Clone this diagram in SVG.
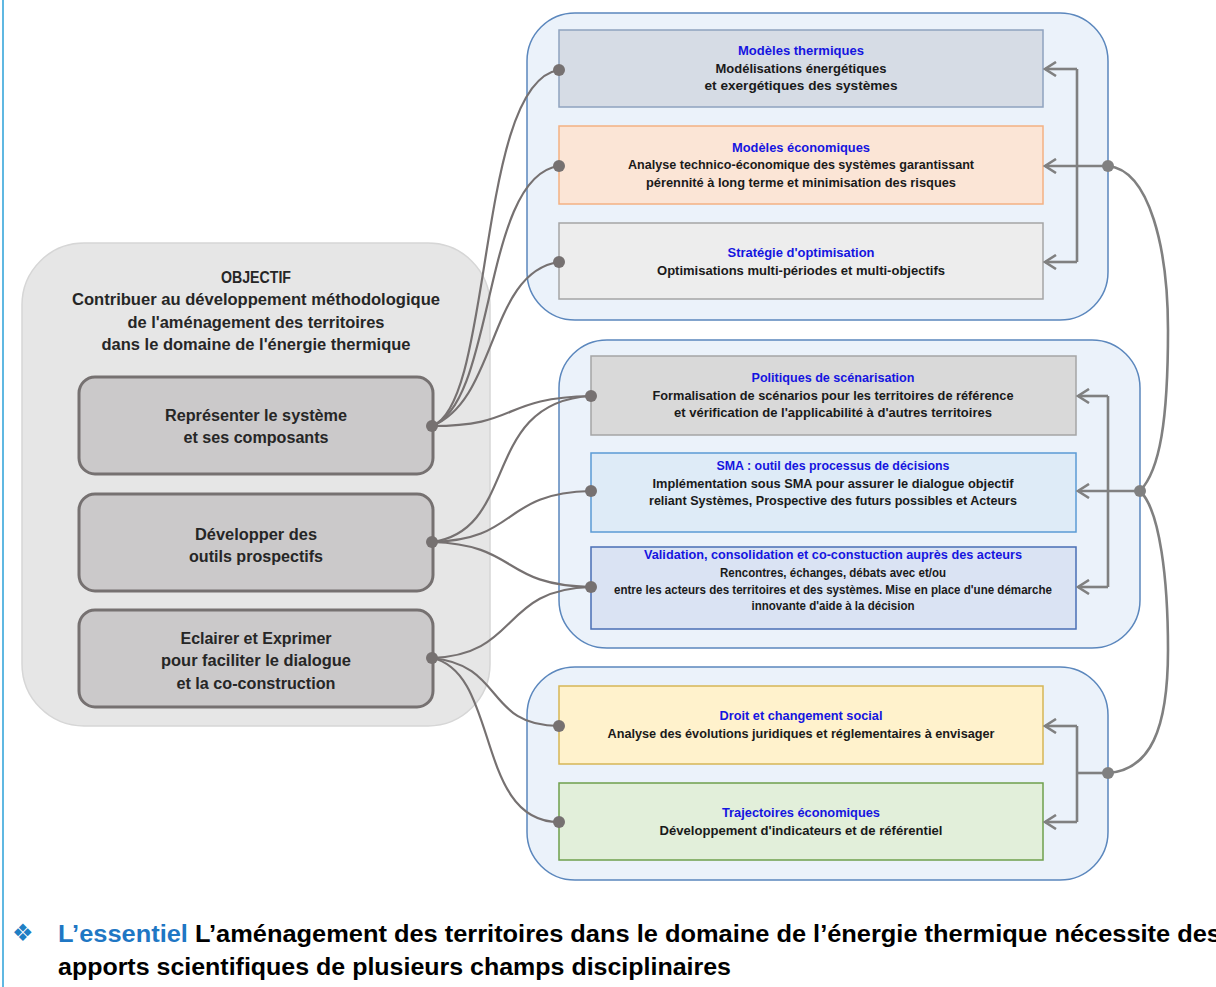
<svg xmlns="http://www.w3.org/2000/svg" width="1216" height="987" viewBox="0 0 1216 987">
<defs>
<style>
.grp{fill:#ebf2fa;stroke:#5b87bd;stroke-width:1.5}
.t{font-family:"Liberation Sans",Arial,sans-serif;font-size:12.5px;font-weight:bold;text-anchor:middle;fill:#1a1a1a}
.h{fill:#1515e0}
.lt{font-family:"Liberation Sans",Arial,sans-serif;font-size:16px;font-weight:bold;text-anchor:middle;fill:#262626}
.inner{fill:#cbc9ca;stroke:#767171;stroke-width:3}
.con{fill:none;stroke:#767171;stroke-width:2.2}
.arr{fill:none;stroke:#808080;stroke-width:2.6}
.dot{fill:#767171}
.dotr{fill:#808080}
.big{font-family:"Liberation Sans",Arial,sans-serif;font-size:23px;font-weight:bold;fill:#000}
</style>
<marker id="ah" viewBox="0 0 14 16" refX="12" refY="8" markerWidth="14" markerHeight="16" markerUnits="userSpaceOnUse" orient="auto">
<path d="M1,1 L12,8 L1,15" fill="none" stroke="#808080" stroke-width="2.6"/>
</marker>
</defs>
<rect width="1216" height="987" fill="#ffffff"/>
<line x1="3" y1="0" x2="3" y2="987" stroke="#2aa1d9" stroke-width="1.5"/>

<g id="objectif">
<rect x="22" y="243" width="468" height="483" rx="62" fill="#e6e6e6" stroke="#d6d6d6" stroke-width="1.5"/>
<text class="lt" x="256" y="283" textLength="70" lengthAdjust="spacingAndGlyphs">OBJECTIF</text>
<text class="lt" x="256" y="305" textLength="368" lengthAdjust="spacingAndGlyphs">Contribuer au développement méthodologique</text>
<text class="lt" x="256" y="328" textLength="257" lengthAdjust="spacingAndGlyphs">de l'aménagement des territoires</text>
<text class="lt" x="256" y="350" textLength="309" lengthAdjust="spacingAndGlyphs">dans le domaine de l'énergie thermique</text>
</g>
<g id="representer">
<rect class="inner" x="79" y="377" width="354" height="97" rx="16"/>
<text class="lt" x="256" y="421" textLength="182" lengthAdjust="spacingAndGlyphs">Représenter le système</text>
<text class="lt" x="256" y="443" textLength="145" lengthAdjust="spacingAndGlyphs">et ses composants</text>
</g>
<g id="developper">
<rect class="inner" x="79" y="494" width="354" height="97" rx="16"/>
<text class="lt" x="256" y="540" textLength="122" lengthAdjust="spacingAndGlyphs">Développer des</text>
<text class="lt" x="256" y="562" textLength="134" lengthAdjust="spacingAndGlyphs">outils prospectifs</text>
</g>
<g id="eclairer">
<rect class="inner" x="79" y="610" width="354" height="97" rx="16"/>
<text class="lt" x="256" y="644" textLength="151" lengthAdjust="spacingAndGlyphs">Eclairer et Exprimer</text>
<text class="lt" x="256" y="666" textLength="190" lengthAdjust="spacingAndGlyphs">pour faciliter le dialogue</text>
<text class="lt" x="256" y="689" textLength="159" lengthAdjust="spacingAndGlyphs">et la co-construction</text>
</g>

<g id="groupe1">
<rect class="grp" x="527" y="13" width="581" height="307" rx="48"/>
</g>
<g id="modeles-thermiques">
<rect x="559" y="30" width="484" height="77" fill="#d6dce5" stroke="#8fa3bf" stroke-width="1.5"/>
<text class="t h" x="801" y="55" textLength="126" lengthAdjust="spacingAndGlyphs">Modèles thermiques</text>
<text class="t" x="801" y="73" textLength="171" lengthAdjust="spacingAndGlyphs">Modélisations énergétiques</text>
<text class="t" x="801" y="90" textLength="193" lengthAdjust="spacingAndGlyphs">et exergétiques des systèmes</text>
</g>
<g id="modeles-economiques">
<rect x="559" y="126" width="484" height="78" fill="#fbe5d6" stroke="#f4b183" stroke-width="1.5"/>
<text class="t h" x="801" y="152" textLength="138" lengthAdjust="spacingAndGlyphs">Modèles économiques</text>
<text class="t" x="801" y="169" textLength="346" lengthAdjust="spacingAndGlyphs">Analyse technico-économique des systèmes garantissant</text>
<text class="t" x="801" y="187" textLength="310" lengthAdjust="spacingAndGlyphs">pérennité à long terme et minimisation des risques</text>
</g>
<g id="strategie">
<rect x="559" y="223" width="484" height="76" fill="#ededed" stroke="#a5a5a5" stroke-width="1.5"/>
<text class="t h" x="801" y="257" textLength="147" lengthAdjust="spacingAndGlyphs">Stratégie d'optimisation</text>
<text class="t" x="801" y="275" textLength="288" lengthAdjust="spacingAndGlyphs">Optimisations multi-périodes et multi-objectifs</text>
</g>

<g id="groupe2">
<rect class="grp" x="559" y="340" width="581" height="308" rx="48"/>
</g>
<g id="politiques">
<rect x="591" y="356" width="485" height="79" fill="#d9d9d9" stroke="#a5a5a5" stroke-width="1.5"/>
<text class="t h" x="833" y="382" textLength="163" lengthAdjust="spacingAndGlyphs">Politiques de scénarisation</text>
<text class="t" x="833" y="400" textLength="361" lengthAdjust="spacingAndGlyphs">Formalisation de scénarios pour les territoires de référence</text>
<text class="t" x="833" y="417" textLength="318" lengthAdjust="spacingAndGlyphs">et vérification de l'applicabilité à d'autres territoires</text>
</g>
<g id="sma">
<rect x="591" y="453" width="485" height="79" fill="#deebf7" stroke="#5b9bd5" stroke-width="1.5"/>
<text class="t h" x="833" y="470" textLength="233" lengthAdjust="spacingAndGlyphs">SMA : outil des processus de décisions</text>
<text class="t" x="833" y="488" textLength="361" lengthAdjust="spacingAndGlyphs">Implémentation sous SMA pour assurer le dialogue objectif</text>
<text class="t" x="833" y="505" textLength="368" lengthAdjust="spacingAndGlyphs">reliant Systèmes, Prospective des futurs possibles et Acteurs</text>
</g>
<g id="validation">
<rect x="591" y="547" width="485" height="82" fill="#dae3f3" stroke="#4a6fb5" stroke-width="1.5"/>
<text class="t h" x="833" y="559" textLength="378" lengthAdjust="spacingAndGlyphs">Validation, consolidation et co-constuction auprès des acteurs</text>
<text class="t" x="833" y="577" font-size="11.5" textLength="226" lengthAdjust="spacingAndGlyphs">Rencontres, échanges, débats avec et/ou</text>
<text class="t" x="833" y="594" font-size="11.5" textLength="438" lengthAdjust="spacingAndGlyphs">entre les acteurs des territoires et des systèmes. Mise en place d'une démarche</text>
<text class="t" x="833" y="610" font-size="11.5" textLength="163" lengthAdjust="spacingAndGlyphs">innovante d'aide à la décision</text>
</g>

<g id="groupe3">
<rect class="grp" x="527" y="667" width="581" height="213" rx="48"/>
</g>
<g id="droit">
<rect x="559" y="686" width="484" height="78" fill="#fff2cc" stroke="#d6b656" stroke-width="1.5"/>
<text class="t h" x="801" y="720" textLength="163" lengthAdjust="spacingAndGlyphs">Droit et changement social</text>
<text class="t" x="801" y="738" textLength="387" lengthAdjust="spacingAndGlyphs">Analyse des évolutions juridiques et réglementaires à envisager</text>
</g>
<g id="trajectoires">
<rect x="559" y="783" width="484" height="77" fill="#e2efda" stroke="#6fa04c" stroke-width="1.5"/>
<text class="t h" x="801" y="817" textLength="158" lengthAdjust="spacingAndGlyphs">Trajectoires économiques</text>
<text class="t" x="801" y="835" textLength="283" lengthAdjust="spacingAndGlyphs">Développement d'indicateurs et de référentiel</text>
</g>

<g id="connecteurs">
<path class="con" d="M432,426 C494,404 476,82 559,70"/>
<path class="con" d="M432,426 C496,402 482,176 559,166"/>
<path class="con" d="M432,426 C498,400 488,272 559,262"/>
<path class="con" d="M432,426 C520,426 500,398 591,396"/>
<path class="con" d="M432,542 C520,530 480,402 591,396"/>
<path class="con" d="M432,542 C520,540 500,493 591,491"/>
<path class="con" d="M432,542 C520,545 500,585 591,587"/>
<path class="con" d="M432,658 C520,655 500,589 591,587"/>
<path class="con" d="M432,658 C505,665 485,726 559,726"/>
<path class="con" d="M432,658 C500,672 475,822 559,822"/>
<circle class="dot" cx="432" cy="426" r="6"/>
<circle class="dot" cx="432" cy="542" r="6"/>
<circle class="dot" cx="432" cy="658" r="6"/>
<circle class="dot" cx="559" cy="70" r="6"/>
<circle class="dot" cx="559" cy="166" r="6"/>
<circle class="dot" cx="559" cy="262" r="6"/>
<circle class="dot" cx="591" cy="396" r="6"/>
<circle class="dot" cx="591" cy="491" r="6"/>
<circle class="dot" cx="591" cy="587" r="6"/>
<circle class="dot" cx="559" cy="726" r="6"/>
<circle class="dot" cx="559" cy="822" r="6"/>

<path class="arr" d="M1077,69 L1077,262"/>
<path class="arr" d="M1077,69 L1045,69" marker-end="url(#ah)"/>
<path class="arr" d="M1108,166 L1045,166" marker-end="url(#ah)"/>
<path class="arr" d="M1077,262 L1045,262" marker-end="url(#ah)"/>

<path class="arr" d="M1108,396 L1108,587"/>
<path class="arr" d="M1108,396 L1078,396" marker-end="url(#ah)"/>
<path class="arr" d="M1140,491 L1078,491" marker-end="url(#ah)"/>
<path class="arr" d="M1108,587 L1078,587" marker-end="url(#ah)"/>

<path class="arr" d="M1077,726 L1077,822"/>
<path class="arr" d="M1077,726 L1045,726" marker-end="url(#ah)"/>
<path class="arr" d="M1108,773 L1077,773"/>
<path class="arr" d="M1077,822 L1045,822" marker-end="url(#ah)"/>

<path class="arr" d="M1108,166 C1150,170 1168,250 1168,330 C1168,420 1160,470 1140,491"/>
<path class="arr" d="M1140,491 C1160,510 1168,580 1168,650 C1168,730 1150,770 1108,773"/>
<circle class="dotr" cx="1108" cy="166" r="6"/>
<circle class="dotr" cx="1140" cy="491" r="6"/>
<circle class="dotr" cx="1108" cy="773" r="6"/>
</g>

<g id="essentiel">
<text x="12" y="941" font-family="'DejaVu Sans',sans-serif" font-size="24" fill="#1f7fc4">❖</text>
<text class="big" x="58" y="942" textLength="1163" lengthAdjust="spacingAndGlyphs"><tspan fill="#1f77c4">L’essentiel</tspan> L’aménagement des territoires dans le domaine de l’énergie thermique nécessite des</text>
<text class="big" x="58" y="975" textLength="673" lengthAdjust="spacingAndGlyphs">apports scientifiques de plusieurs champs disciplinaires</text>
</g>
</svg>
